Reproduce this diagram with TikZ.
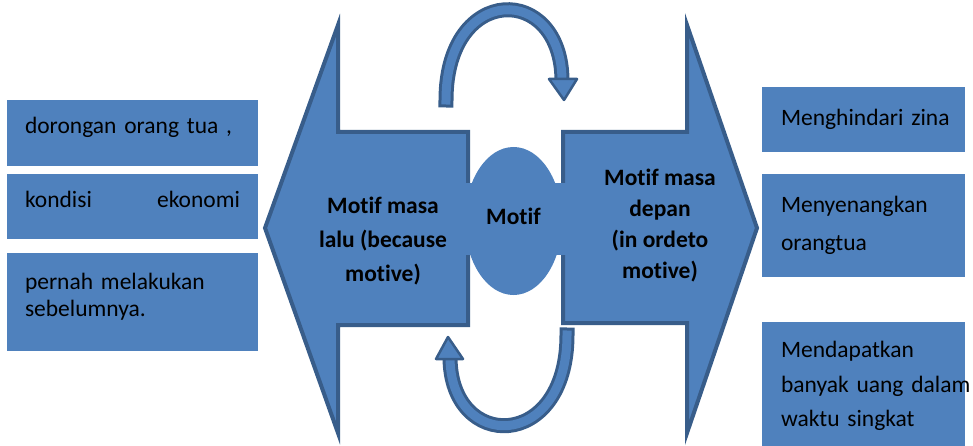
\documentclass[tikz,border=0pt]{standalone}
\usepackage{fontspec}
\setmainfont{Carlito}[Ligatures=NoCommon]
\usetikzlibrary{shapes.geometric}
\definecolor{motifblue}{HTML}{4F81BD}
\definecolor{motifedge}{HTML}{385D8A}
\begin{document}
\begin{tikzpicture}[x=1pt, y=1pt]

\tikzstyle{box1}=[rectangle, fill=motifblue, text width=215pt, inner xsep=18pt, minimum height=65pt, align=left, font=\fontsize{23.5}{27}\selectfont]
\tikzstyle{box2}=[box1, text width=165pt, inner xsep=19pt]
\tikzstyle{bigarrow}=[draw=motifedge, fill=motifblue, line width=4pt]
\tikzstyle{title}=[align=center, font=\fontsize{23.5}{34}\selectfont\bfseries]
\tikzstyle{turn}=[draw=motifedge, line width=3pt, double=motifblue, double distance=9pt, line cap=rect]
\tikzstyle{turnhead}=[draw=motifedge, fill=motifblue, line width=2.5pt, line join=round]

\useasboundingbox (0,0) rectangle (973,445);

\node (A) [box1, minimum height=66pt, text depth=15pt] at (132.5,312)   {dorongan orang tua ,};
\node (B) [box1, text depth=14pt]                      at (132.5,238.5) {\hbox to \hsize{kondisi\hfill ekonomi}};
\node (C) [box1, minimum height=98pt, text depth=41pt] at (132.5,143)   {pernah melakukan\\ sebelumnya.};

\node (D) [box2]                      at (863.5,325.5) {\mbox{Menghindari zina}};
\node (E) [box2, minimum height=103pt, font=\fontsize{23.5}{38}\selectfont]   at (863.5,219.5) {Menyenangkan\\ orangtua};
\node (F) [box2, minimum height=128pt, font=\fontsize{23.5}{34.5}\selectfont] at (863.5,59)    {Mendapatkan\\ \mbox{banyak uang dalam}\\ waktu singkat};

\draw [bigarrow] (468,313) -- (338,313) -- (338,420) -- (265,217) -- (338,12) -- (338,120) -- (468,120) -- cycle;
\draw [bigarrow] (563,313) -- (687,313) -- (687,420) -- (757,217) -- (687,12) -- (687,122) -- (563,122) -- cycle;

\node (L) [title] at (383,204) {Motif masa\\ lalu (because\\ motive)};
\node (R) [title, font=\fontsize{23.5}{31}\selectfont\bfseries] at (660,219) {Motif masa\\ depan\\ (in ordeto\\ motive)};

\fill [motifblue] (465,190) rectangle (566,262);
\node (M) [ellipse, fill=motifblue, minimum width=97pt, minimum height=148pt, text depth=10pt, font=\fontsize{23.5}{28}\selectfont\bfseries] at (513.5,224) {Motif};

\coordinate (t1) at (446,345);
\coordinate (t2) at (562,364);
\coordinate (b1) at (567,110);
\coordinate (b2) at (450,88);
\draw [turn] (t1) .. controls (446,462) and (562,462) .. (t2);
\draw [turnhead] (549,366) -- (577,366) -- (564,345) -- cycle;
\draw [turn] (b1) .. controls (567,-7) and (450,-7) .. (b2);
\draw [turnhead] (436,86) -- (463,86) -- (448,108) -- cycle;

\end{tikzpicture}
\end{document}
